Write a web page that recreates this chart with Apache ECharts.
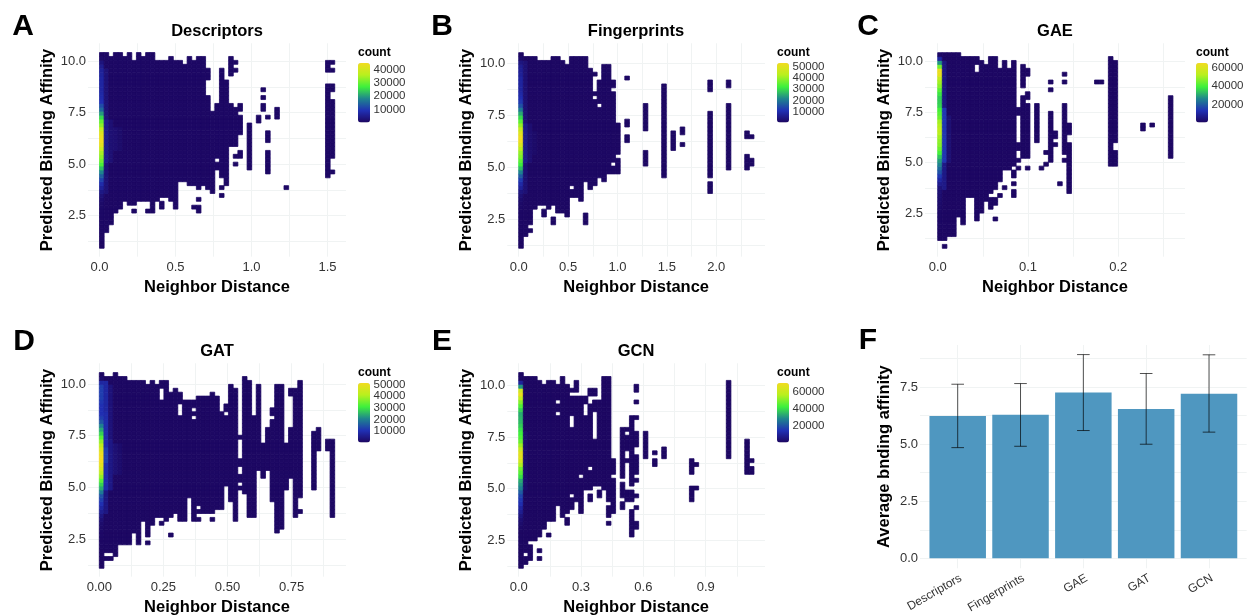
<!DOCTYPE html>
<html>
<head>
<meta charset="utf-8">
<style>html,body{margin:0;padding:0;background:#fff}#c{width:1249px;height:615px;filter:blur(.35px)}</style>
<script src="https://cdn.jsdelivr.net/npm/echarts@6/dist/echarts.min.js"></script>
</head>
<body>
<div id="c"></div>
<script>
// ---- Data ----
// Occupied 2D bins: [column, rowFrom, rowTo, rowFrom, rowTo, ...] (rowTo exclusive)
const occA = [[0,0,50],[1,4,50],[2,6,49],[3,9,50],[4,10,50],[5,12,49],[6,11,50],[7,9,10,11,48],[8,12,50],[9,12,49],[10,9,10,12,50],[11,9,50],[12,12,48],[13,10,12,13,48],[14,13,48],[15,12,49],[16,10,48],[17,17,48],[18,17,47],[19,16,49],[20,10,11,16,48],[21,9,11,12,13,15,49],[22,16,49],[23,15,39,43,46],[24,14,35],[25,20,22,23,37],[26,18,46,15,16,13,14],[27,16,43],[28,26,37,44,49],[29,26,36,23,24,21,22,45,46,47,48],[30,29,34,23,25,35,37],[32,20,32],[34,32,34],[35,40,41,38,39,35,37],[36,33,34,27,30,19,25],[38,33,36],[40,15,16],[49,18,42,45,48],[50,40,42,23,38,19,20,47,48,45,46]];
const occB = [[0,0,50],[1,3,49],[2,4,5,6,49],[3,10,49],[4,11,48],[5,8,10,11,48],[6,10,48],[7,6,8,11,49],[8,9,49],[9,9,48],[10,8,47],[11,13,15,16,49],[12,13,49],[13,12,49],[14,6,9,17,49],[15,15,46],[16,16,38,39,40,44,45],[17,18,36,37,43],[18,17,47],[19,19,47],[20,19,21,22,40,41,43],[21,19,23,24,32],[23,43,44,31,33,27,29],[27,30,37,21,25],[31,18,42],[33,25,30],[35,29,31,26,27],[41,40,43,18,35,14,17],[45,41,43,20,37],[49,28,30,20,24],[50,28,29,22,23,21,22]];
const occC = [[0,2,50],[1,0,1,2,50],[2,3,50],[3,3,50],[4,8,50],[5,6,49],[6,13,49],[7,13,49],[8,7,45,47,49],[9,9,48],[10,12,47],[11,10,13,14,49],[12,7,8,11,13,15,49],[13,13,14,17,46],[14,15,16,20,48],[15,20,46],[16,13,15,16,17,18,20,21,48],[17,20,21,22,23,25,27,34,36],[18,23,39,41,47],[19,20,21,23,37,38,40,44,46],[21,27,37],[22,20,21],[23,21,22,24,25],[24,22,35,40,41,42,43],[25,28,30,26,27],[26,16,17],[27,44,45,42,43,24,37,22,23],[28,29,32,15,27,14,15],[34,42,43],[35,42,43],[37,21,49],[38,27,48,21,25],[44,30,32],[46,31,32],[50,23,39]];
const occD = [[0,0,50],[1,2,3,4,49],[2,2,3,4,49],[3,3,50],[4,6,49],[5,6,49],[6,6,48],[7,9,48],[8,6,48],[9,12,48],[10,6,7,8,47],[11,11,48],[12,13,47],[13,11,12,13,43,46,48],[14,12,48],[15,8,9,13,45],[16,14,46],[17,12,39,42,45],[18,12,43],[19,18,43],[20,12,38,39,40,41,43],[21,12,13,14,15,16,44],[22,14,44],[23,14,44],[24,12,13,14,45],[25,15,44],[26,15,40],[27,21,39,40,42],[28,17,47],[29,12,46],[30,20,21,22,24,26,28,33,34],[31,19,49],[32,13,48],[33,13,39],[34,25,47],[35,23,32],[36,25,36],[37,17,38,39,41],[38,9,47],[39,10,47],[40,20,32],[41,23,36,44,46],[42,13,46],[43,18,48,14,15],[46,20,35],[47,30,36],[49,30,33],[50,13,33]];
const occE = [[0,0,50],[1,1,3,4,49],[2,2,6,7,49],[3,7,49],[4,2,3,4,5,8,48],[5,10,47],[6,8,9,12,48],[7,12,48],[8,16,39,40,42,43,47],[9,13,49],[10,11,13,14,47],[11,15,18,19,36,39,44,45,46],[12,17,44,45,48],[13,14,23,24,44],[14,20,39,42,44],[15,17,19,20,25,26,42,44,46],[16,21,33,40,43,44,46],[17,18,20,21,43],[18,20,49],[19,11,12,13,16,17,49],[20,14,23,24,28],[22,15,17,18,22,23,36],[23,17,20,27,28,30,34,35,36],[24,8,15,17,20,21,39],[25,45,47,42,43,38,39,31,35,24,29,22,23,18,19,15,16,10,12],[27,28,35],[29,29,30,26,28],[31,28,31],[37,24,28,17,21],[38,26,27,20,21],[45,28,48],[49,24,33],[50,27,28,25,26,24,25]];
// Counts of the first column, row 0 (bottom) to row 49 (top)
const col0A = [200,200,300,300,400,400,500,500,600,600,800,1000,1500,2500,4000,6000,8000,11000,14000,18000,23000,28000,31000,33000,35000,39000,43000,45000,44000,42000,38000,33000,30000,25000,20000,15000,12000,9000,8000,7500,7000,7000,7000,7000,6500,6000,5000,3000,1000,300];
const col0B = [200,200,300,300,400,400,500,500,600,600,800,1000,1500,2500,4000,7000,9000,12000,16000,21000,27000,32000,35000,38000,40000,44000,49000,53000,53000,50000,46000,40000,35000,30000,25000,20000,15000,12000,10000,9000,8000,8000,8000,8000,7000,6500,6000,4000,1500,300];
const col0C = [0,0,300,300,400,500,600,700,800,1000,1200,1500,2000,2500,3000,4000,7000,10000,14000,18000,22000,26000,29000,34000,40000,44000,47000,48000,50000,53000,54000,52000,50000,44000,42000,40000,36000,35000,35000,38000,42000,47000,50000,55000,63000,64000,45000,28000,10000,1000];
const col0D = [200,200,300,300,400,400,500,500,700,800,1000,1500,2500,4000,6000,8000,10000,12000,14000,19000,24000,28000,33000,38000,42000,46000,49000,52000,52000,50000,47000,42000,38000,33000,28000,24000,20000,15000,12000,10000,10000,10000,11000,12000,12000,12000,12000,8000,1500,300];
const col0E = [200,200,200,200,200,200,500,500,500,500,1000,2000,3000,5000,8000,10000,13000,15000,17000,21000,27000,30000,33000,40000,45000,48000,55000,62000,66000,66000,60000,53000,47000,44000,42000,40000,37000,35000,34000,33000,38000,44000,50000,58000,68000,62000,30000,10000,1000,300];
// Warmer stretches in other columns: [column, rowFrom, rowTo, count]
const warmA = [[1,14,22,2500],[1,22,33,4500],[1,33,46,2500],[2,22,33,2200],[3,25,31,1800],[4,25,31,1200]];
const warmB = [[1,14,22,2500],[1,22,32,5000],[1,32,48,2500],[2,22,32,2000],[3,24,30,1200]];
const warmC = [[1,15,22,6000],[1,22,36,14000],[1,36,48,5000],[2,22,34,3000]];
const warmD = [[1,14,20,4000],[1,20,27,9000],[1,27,31,12000],[1,31,40,9000],[1,40,48,8000],[2,20,33,4500],[2,33,47,3000],[3,24,32,2500],[4,24,32,1500]];
const warmE = [[1,20,35,2000]];
const baseCount = 400;
// Bar panel
const methods = ['Descriptors','Fingerprints','GAE','GAT','GCN'];
const meanAff = [6.24,6.29,7.27,6.54,7.21];
const lowAff  = [4.85,4.91,5.60,5.00,5.53];
const highAff = [7.63,7.66,8.93,8.10,8.92];
const yTicks = [2.5,5,7.5,10];
const yMinor = [1.25,3.75,6.25,8.75];

const FONT = '"Liberation Sans", Arial, sans-serif';
const TICK = '#333333', GRID = '#f0f3f3';
const ramp = ['#1d0660','#2030b4','#1f858e','#3ef03c','#b8f01e','#f2dc20'];

const panels = [
 {name:'Descriptors',tag:'A',occ:occA,col0:col0A,warm:warmA,box:[88,346,43.3,256.7],xr:[-0.0757,1.622],yr:[0.5,10.86],
  bw:0.03035,bh:0.19,sx:0,sy:0.91,xt:[0,.5,1,1.5],xm:[.25,.75,1.25],dec:1,title:[217,31],tag_:[23,27],
  leg:[358,63,12,59.5],lr:45250,lt:[10000,20000,30000,40000],ct:[358,53]},
 {name:'Fingerprints',tag:'B',occ:occB,col0:col0B,warm:warmB,box:[507.3,765,43.3,256.7],xr:[-0.1154,2.493],yr:[0.70,10.96],
  bw:0.04669,bh:0.1881,sx:0,sy:1.106,xt:[0,.5,1,1.5,2],xm:[.25,.75,1.25,1.75,2.25],dec:1,title:[636,31],tag_:[442,27],
  leg:[777,63,12,59.5],lr:53800,lt:[10000,20000,30000,40000,50000],ct:[777,53]},
 {name:'GAE',tag:'C',occ:occC,col0:col0C,warm:warmC,box:[925,1185,43.3,256.7],xr:[-0.01406,0.2739],yr:[0.347,10.91],
  bw:0.005109,bh:0.1937,sx:0,sy:0.762,xt:[0,.1,.2],xm:[.05,.15,.25],dec:1,title:[1055,31],tag_:[868,27],
  leg:[1196,63,12,59.5],lr:65500,lt:[20000,40000,60000],ct:[1196,53]},
 {name:'GAT',tag:'D',occ:occD,col0:col0D,warm:warmD,box:[88,346,363.3,576.7],xr:[-0.0441,0.9621],yr:[0.677,11.0],
  bw:0.018,bh:0.1893,sx:0,sy:1.084,xt:[0,.25,.5,.75],xm:[.125,.375,.625,.875],dec:2,title:[217,351],tag_:[24,342],
  leg:[358,383,12,59.5],lr:51400,lt:[10000,20000,30000,40000,50000],ct:[358,373]},
 {name:'GCN',tag:'E',occ:occE,col0:col0E,warm:warmE,box:[507.3,765,363.3,576.7],xr:[-0.0549,1.1852],yr:[0.728,11.087],
  bw:0.0222,bh:0.19,sx:0,sy:1.136,xt:[0,.3,.6,.9],xm:[.15,.45,.75,1.05],dec:1,title:[636,351],tag_:[442,342],
  leg:[777,383,12,59.5],lr:70000,lt:[20000,40000,60000],ct:[777,373]}
];

function buildCells(p){
  const warmAt = {};
  p.warm.forEach(([c,a,b,v]) => { for(let r=a;r<b;r++) warmAt[c+'_'+r]=v; });
  const cells = [];
  p.occ.forEach(entry => {
    const c = entry[0];
    for(let i=1;i<entry.length;i+=2){
      for(let r=entry[i];r<entry[i+1];r++){
        let v = baseCount;
        if(c===0 && p.col0[r]) v = p.col0[r];
        else if(warmAt[c+'_'+r]) v = warmAt[c+'_'+r];
        cells.push([p.sx+(c+.5)*p.bw, p.sy+(r+.5)*p.bh, v]);
      }
    }
  });
  return cells;
}
function tileRenderer(p){
  return function(params, api){
    const x=api.value(0), y=api.value(1);
    const a=api.coord([x-p.bw/2,y+p.bh/2]), b=api.coord([x+p.bw/2,y-p.bh/2]);
    const col=api.visual('color');
    return {type:'rect',shape:{x:a[0],y:a[1],width:b[0]-a[0],height:b[1]-a[1]},
      style:{fill:col,stroke:col,lineWidth:0.8}};
  };
}
const sortNum = a => a.slice().sort((m,n)=>m-n);

const grid=[],xAxis=[],yAxis=[],series=[],visualMap=[],title=[];
function addTitle(text,x,y,size,weight,align,color){
  title.push({text,left:x,top:y,padding:0,textAlign:align||'center',textVerticalAlign:'middle',
    textStyle:{fontFamily:FONT,fontSize:size,fontWeight:weight||'bold',color:color||'#000'}});
}
function axisCommon(){return {
  axisLine:{show:false},axisTick:{show:false},
  splitLine:{show:true,lineStyle:{color:GRID,width:1}},
  minorSplitLine:{show:false}
};}
const nameStyle = {fontFamily:FONT,fontSize:16.5,fontWeight:'bold',color:'#000'};

panels.forEach((p,i)=>{
  const [l,r,t,b]=p.box;
  grid.push({left:l,top:t,width:r-l,height:b-t,containLabel:false,outerBoundsMode:'none'});
  xAxis.push(Object.assign(axisCommon(),{gridIndex:grid.length-1,type:'value',min:p.xr[0],max:p.xr[1],
    name:'Neighbor Distance',nameLocation:'middle',nameGap:22.5,nameTextStyle:nameStyle,
    axisTick:{show:false,customValues:sortNum(p.xt.concat(p.xm))},
    axisLabel:{customValues:p.xt,margin:4,fontFamily:FONT,fontSize:13,color:TICK,showMinLabel:true,showMaxLabel:true,formatter:v=>(+v).toFixed(p.dec)}}));
  yAxis.push(Object.assign(axisCommon(),{gridIndex:grid.length-1,type:'value',min:p.yr[0],max:p.yr[1],
    name:'Predicted Binding Affinity',nameLocation:'middle',nameGap:32.5,nameTextStyle:nameStyle,
    axisTick:{show:false,customValues:sortNum(yTicks.concat(yMinor))},
    axisLabel:{customValues:yTicks,margin:2,fontFamily:FONT,fontSize:13,color:TICK,showMinLabel:true,showMaxLabel:true,formatter:v=>(+v).toFixed(1)}}));
  series.push({type:'custom',name:p.name,xAxisIndex:grid.length-1,yAxisIndex:grid.length-1,
    coordinateSystem:'cartesian2d',data:buildCells(p),renderItem:tileRenderer(p),
    encode:{x:0,y:1},clip:true,silent:true,animation:false,progressive:0});
  const si=series.length-1;
  const [lx,ly,lw,lh]=p.leg;
  visualMap.push({type:'continuous',seriesIndex:si,dimension:2,min:0,max:p.lr,left:lx,top:ly,
    itemWidth:lw,itemHeight:lh,padding:0,calculable:false,realtime:false,hoverLink:false,
    inRange:{color:ramp},text:null,textStyle:{fontSize:1,color:'transparent'},z:3});
  addTitle(p.name,p.title[0],p.title[1],16.5);
  addTitle(p.tag,p.tag_[0],p.tag_[1],30);
  addTitle('count',p.ct[0],p.ct[1],12,'bold','left');
  // colour bar scale: white ticks from an axis, labels placed from the same scale
  grid.push({left:lx,top:ly,width:lw,height:lh,z:6,outerBoundsMode:'none'});
  xAxis.push({gridIndex:grid.length-1,type:'value',show:false,min:0,max:1});
  yAxis.push({gridIndex:grid.length-1,type:'value',position:'right',min:0,max:p.lr,z:8,
    axisLine:{show:false},splitLine:{show:false},axisLabel:{show:false},
    axisTick:{show:true,inside:true,length:2.5,customValues:p.lt,lineStyle:{color:'rgba(255,255,255,.7)',width:.6}}});
  p.lt.forEach(v=>addTitle(String(v),lx+lw+3.5,ly+lh*(1-v/p.lr),11.5,'normal','left',TICK));
});

// Panel F
grid.push({left:920,top:345,width:326.7,height:223.3,outerBoundsMode:'none'});
const gi=grid.length-1;
const barRows = methods.map((m,i)=>[i+1,meanAff[i]]);
const errRows = methods.map((m,i)=>[i+1,lowAff[i],highAff[i]]);
xAxis.push(Object.assign(axisCommon(),{gridIndex:gi,type:'value',min:0.4,max:5.6,
  axisTick:{show:false,customValues:[1,2,3,4,5]},
  axisLabel:{customValues:[1.05,2.05,3.05,4.05,5.05],rotate:30,margin:9,fontFamily:FONT,fontSize:12,color:TICK,showMinLabel:true,showMaxLabel:true,formatter:v=>methods[Math.round(v)-1]}}));
yAxis.push(Object.assign(axisCommon(),{gridIndex:gi,type:'value',min:-0.44,max:9.35,
  name:'Average bnding affinity',nameLocation:'middle',nameGap:27,nameTextStyle:nameStyle,
  axisTick:{show:false,customValues:[0,1.25,2.5,3.75,5,6.25,7.5,8.75]},
  axisLabel:{customValues:[0,2.5,5,7.5],margin:2,fontFamily:FONT,fontSize:13,color:TICK,showMinLabel:true,showMaxLabel:true,formatter:v=>(+v).toFixed(1)}}));
series.push({type:'bar',xAxisIndex:gi,yAxisIndex:gi,data:barRows,barWidth:56.5,encode:{x:0,y:1},
  itemStyle:{color:'#4f97c0'},silent:true,animation:false});
series.push({type:'custom',xAxisIndex:gi,yAxisIndex:gi,data:errRows,encode:{x:0,y:[1,2]},silent:true,animation:false,z:5,
  renderItem(params,api){
    const x=api.value(0),lo=api.coord([x,api.value(1)]),hi=api.coord([x,api.value(2)]);
    const cap=6.3, st={stroke:'rgba(0,0,0,.68)',lineWidth:1,fill:null};
    return {type:'group',children:[
      {type:'line',shape:{x1:hi[0],y1:hi[1],x2:lo[0],y2:lo[1]},style:st},
      {type:'line',shape:{x1:hi[0]-cap,y1:hi[1],x2:hi[0]+cap,y2:hi[1]},style:st},
      {type:'line',shape:{x1:lo[0]-cap,y1:lo[1],x2:lo[0]+cap,y2:lo[1]},style:st}]};
  }});
addTitle('F',868,341,30);

const chart=echarts.init(document.getElementById('c'),null,{renderer:'canvas'});
chart.setOption({animation:false,backgroundColor:'#fff',title,grid,xAxis,yAxis,series,visualMap,tooltip:{show:false}});
</script>
</body>
</html>
